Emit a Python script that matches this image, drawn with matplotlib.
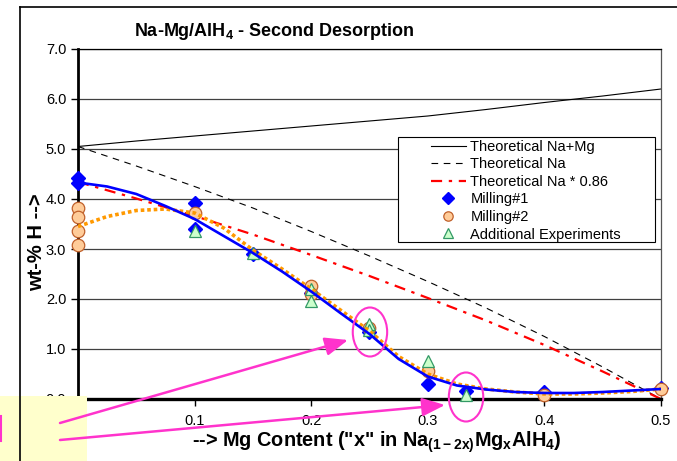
import matplotlib
matplotlib.use("Agg")
import matplotlib.pyplot as plt
from matplotlib.patches import Ellipse, Rectangle

plt.rcParams['font.family'] = ['Liberation Sans', 'DejaVu Sans']
plt.rcParams['mathtext.fontset'] = 'custom'
plt.rcParams['mathtext.rm'] = 'Liberation Sans:bold'
plt.rcParams['mathtext.it'] = 'Liberation Sans:bold'
plt.rcParams['mathtext.bf'] = 'Liberation Sans:bold'
plt.rcParams['mathtext.default'] = 'rm'

# theoretical curves
x_theory = [0, 0.05, 0.1, 0.15, 0.2, 0.25, 0.3, 0.35, 0.4, 0.45, 0.5]
na_mg = [5.05, 5.16, 5.26, 5.36, 5.46, 5.56, 5.66, 5.79, 5.93, 6.06, 6.2]
na_only = [5.05, 4.66, 4.25, 3.82, 3.35, 2.86, 2.35, 1.82, 1.25, 0.64, 0.0]
na_086 = [4.34, 4.01, 3.66, 3.29, 2.88, 2.46, 2.02, 1.57, 1.08, 0.55, 0.0]

# measured points
m1_x = [0, 0, 0.1, 0.1, 0.15, 0.2, 0.25, 0.3, 0.333, 0.4, 0.5]
m1_y = [4.42, 4.32, 3.92, 3.40, 2.90, 2.12, 1.33, 0.30, 0.15, 0.14, 0.22]
m2_x = [0, 0, 0, 0, 0.1, 0.2, 0.2, 0.25, 0.3, 0.4, 0.5]
m2_y = [3.82, 3.63, 3.36, 3.08, 3.72, 2.25, 2.10, 1.42, 0.55, 0.08, 0.20]
add_x = [0.1, 0.15, 0.2, 0.2, 0.25, 0.25, 0.3, 0.333]
add_y = [3.35, 2.92, 2.20, 1.95, 1.50, 1.38, 0.75, 0.08]

# trend lines
trend_x = [0, 0.025, 0.05, 0.075, 0.1, 0.125, 0.15, 0.175, 0.2, 0.225, 0.25,
           0.275, 0.3, 0.325, 0.35, 0.375, 0.4, 0.425, 0.45, 0.475, 0.5]
trend_m1 = [4.33, 4.25, 4.10, 3.86, 3.60, 3.26, 2.92, 2.55, 2.15, 1.72, 1.30,
            0.80, 0.45, 0.27, 0.19, 0.14, 0.12, 0.12, 0.14, 0.17, 0.20]
trend_m2 = [3.45, 3.65, 3.77, 3.80, 3.72, 3.42, 2.98, 2.60, 2.20, 1.78, 1.36,
            0.85, 0.50, 0.30, 0.20, 0.14, 0.10, 0.10, 0.12, 0.15, 0.20]

x_ticks = [0, 0.1, 0.2, 0.3, 0.4, 0.5]
x_labels = ['0', '0.1', '0.2', '0.3', '0.4', '0.5']
y_ticks = [0, 1, 2, 3, 4, 5, 6, 7]

W, H = 677, 461
fig = plt.figure(figsize=(W / 100, H / 100), dpi=100)
ax = fig.add_axes([78 / W, 1 - 399 / H, (661 - 78) / W, 350 / H])

ax.plot(x_theory, na_mg, color='black', lw=0.8, zorder=2, label='Theoretical Na+Mg')
ax.plot(x_theory, na_only, color='black', lw=0.8, dashes=(6, 5), zorder=2,
        label='Theoretical Na')
ax.plot(x_theory, na_086, color='red', lw=1.6, dashes=(5, 3, 1.5, 3), zorder=2,
        label='Theoretical Na * 0.86')

ax.plot(m1_x, m1_y, ls='none', marker='D', ms=7.5, color='#0000FF', zorder=3,
        clip_on=False, label='Milling#1')
ax.plot(m2_x, m2_y, ls='none', marker='o', ms=9, mfc='#FFCC99', mec='#C0602A',
        mew=0.9, zorder=3.1, clip_on=False, label='Milling#2')
ax.plot(add_x, add_y, ls='none', marker='^', ms=9, mfc='#CCFFCC', mec='#339966',
        mew=0.9, zorder=3.2, clip_on=False, label='Additional Experiments')

ax.plot(trend_x, trend_m2, color='#FF9900', lw=2.6, ls=(0, (1, 0.8)), zorder=4)
ax.plot(trend_x, trend_m1, color='#0000FF', lw=1.9, zorder=4.5)

ax.set_xlim(0, 0.5)
ax.set_ylim(0, 7)
ax.set_xticks(x_ticks)
ax.set_xticklabels(x_labels)
ax.set_yticks(y_ticks)
ax.set_yticklabels(['%.1f' % v for v in y_ticks])
ax.tick_params(direction='out', length=5, width=1, labelsize=10.5, colors='black')
ax.tick_params(axis='x', pad=6)
ax.grid(axis='y', color='#404040', lw=0.9)
ax.set_axisbelow(True)
ax.spines['left'].set_linewidth(2)
ax.spines['bottom'].set_linewidth(2.4)
ax.spines['top'].set_linewidth(0.9)
ax.spines['right'].set_linewidth(0.9)
ax.spines['right'].set_color('#555555')

# legend: frame drawn separately so the box can be wider than its content
px_x = lambda p: (p - 78) / 583
px_y = lambda p: (399 - p) / 350
ax.add_patch(Rectangle((px_x(398), px_y(242)), px_x(655) - px_x(398),
                       px_y(137) - px_y(242), transform=ax.transAxes,
                       facecolor='white', edgecolor='black', lw=0.8, zorder=7))
leg = ax.legend(loc='upper left', bbox_to_anchor=(px_x(431), px_y(140)),
                fontsize=10.5, frameon=False, labelspacing=0.24,
                handlelength=2.4, handletextpad=0.3, borderpad=0,
                borderaxespad=0, numpoints=1, markerscale=0.75)
leg.set_zorder(8)

fig.text(274 / W, 1 - 31 / H, r'Na-Mg/AlH$_4$ - Second Desorption',
         ha='center', va='center', fontsize=13, fontweight='bold')
fig.text(377 / W, 1 - 442 / H,
         r'--> Mg Content ("x" in Na$_{(1-2x)}$Mg$_x$AlH$_4$)',
         ha='center', va='center', fontsize=14.3, fontweight='bold')
fig.text(37 / W, 1 - 242 / H, 'wt-% H -->', rotation=90,
         ha='center', va='center', fontsize=14.5, fontweight='bold')

# highlight ellipses around the points
pink = '#FF33CC'
for cx, cy in [(0.2504, 1.34), (0.3328, 0.04)]:
    ax.add_patch(Ellipse((cx, cy), 0.0295, 0.98, fill=False, edgecolor=pink,
                         lw=1.5, clip_on=False, zorder=6))

# slide overlay: frame, note box and arrows
over = fig.add_axes([0, 0, 1, 1], zorder=5)
over.set_xlim(0, W)
over.set_ylim(H, 0)
over.axis('off')
over.patch.set_alpha(0)
over.plot([20, 20], [7, H], color='black', lw=1.2)
over.plot([20, W], [7, 7], color='black', lw=1.2)
over.add_patch(Rectangle((0, 396), 87, 65, facecolor='#FFFFCC', edgecolor='none'))
over.plot([0.6, 0.6], [416, 441], color=pink, lw=1.5)
for start, tip in [((60, 423), (0.2316, 1.18)), ((60, 440), (0.3148, -0.12))]:
    over.annotate('', xy=tip, xycoords=ax.transData, xytext=start, textcoords='data',
                  arrowprops=dict(arrowstyle='-|>,head_length=0.7,head_width=0.28',
                                  color=pink, lw=1.8, mutation_scale=20,
                                  shrinkA=0, shrinkB=0),
                  annotation_clip=False)

fig.savefig('out.png', dpi=100)
